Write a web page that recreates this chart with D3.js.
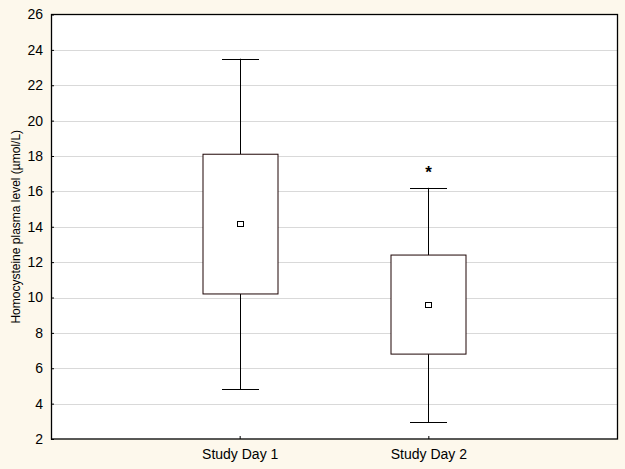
<!DOCTYPE html>
<html>
<head>
<meta charset="utf-8">
<script src="https://cdn.jsdelivr.net/npm/d3@7"></script>
<style>
  body { margin: 0; background: #fdf8ec; }
  svg { display: block; font-family: "Liberation Sans", Arial, sans-serif; }
</style>
</head>
<body>
<div id="chart"></div>
<script>
// données
const days = ["Study Day 1", "Study Day 2"];
const whiskerLow = [4.8, 2.95];
const boxLow = [10.2, 6.8];
const means = [14.15, 9.6];
const boxHigh = [18.1, 12.4];
const whiskerHigh = [23.5, 16.2];
const starValue = [null, 17.25];
const yTicks = [2, 4, 6, 8, 10, 12, 14, 16, 18, 20, 22, 24, 26];

const width = 625, height = 469;
const margin = {top: 14.5, right: 8, bottom: 30, left: 51};

const svg = d3.select("#chart").append("svg")
    .attr("width", width)
    .attr("height", height);

svg.append("rect").attr("width", width).attr("height", height).attr("fill", "#fdf8ec");

const x = d3.scalePoint()
    .domain(days)
    .range([margin.left, width - margin.right])
    .padding(1);

const y = d3.scaleLinear()
    .domain([2, 26])
    .range([height - margin.bottom, margin.top]);

// zone de tracé
svg.append("rect")
    .attr("x", margin.left)
    .attr("y", margin.top)
    .attr("width", width - margin.right - margin.left)
    .attr("height", height - margin.bottom - margin.top)
    .attr("fill", "#fff");

// grille
svg.append("g")
    .selectAll("line")
    .data(yTicks.slice(1, -1))
    .join("line")
    .attr("x1", margin.left)
    .attr("x2", width - margin.right)
    .attr("y1", d => Math.round(y(d)) + 0.5)
    .attr("y2", d => Math.round(y(d)) + 0.5)
    .attr("stroke", "#d9d9d9");

// axe Y
const yAxis = svg.append("g")
    .attr("transform", `translate(${margin.left},0)`)
    .call(d3.axisRight(y).tickValues(yTicks).tickSize(3).tickSizeOuter(0));
yAxis.select(".domain").remove();
yAxis.selectAll("text")
    .attr("x", -8)
    .attr("text-anchor", "end")
    .attr("font-size", 14)
    .attr("fill", "#000")
    .style("font-family", "Liberation Sans, Arial, sans-serif");

// axe X
const xAxis = svg.append("g")
    .attr("transform", `translate(0,${height - margin.bottom})`)
    .call(d3.axisTop(x).tickSize(3).tickSizeOuter(0));
xAxis.select(".domain").remove();
xAxis.selectAll("text")
    .attr("y", 20)
    .attr("dy", "0")
    .attr("font-size", 14)
    .attr("fill", "#000")
    .style("font-family", "Liberation Sans, Arial, sans-serif");

// boîtes
const boxW = 75;
const capW = 37;
const g = svg.append("g");
days.forEach((d, i) => {
    const cx = Math.round(x(d)) + 0.5;
    // moustaches
    g.append("line").attr("x1", cx).attr("x2", cx)
        .attr("y1", y(whiskerHigh[i])).attr("y2", y(boxHigh[i]))
        .attr("stroke", "#000");
    g.append("line").attr("x1", cx).attr("x2", cx)
        .attr("y1", y(boxLow[i])).attr("y2", y(whiskerLow[i]))
        .attr("stroke", "#000");
    [whiskerHigh[i], whiskerLow[i]].forEach(v => {
        g.append("line")
            .attr("x1", cx - capW / 2).attr("x2", cx + capW / 2)
            .attr("y1", Math.round(y(v)) + 0.5).attr("y2", Math.round(y(v)) + 0.5)
            .attr("stroke", "#000");
    });
    g.append("rect")
        .attr("x", cx - boxW / 2)
        .attr("y", y(boxHigh[i]))
        .attr("width", boxW)
        .attr("height", y(boxLow[i]) - y(boxHigh[i]))
        .attr("fill", "#fff")
        .attr("stroke", "#1e0505");
    g.append("rect")
        .attr("x", cx - 3)
        .attr("y", Math.round(y(means[i])) - 2.5)
        .attr("width", 6)
        .attr("height", 5)
        .attr("fill", "#fff")
        .attr("stroke", "#000");
    if (starValue[i] != null) {
        g.append("text")
            .attr("x", cx)
            .attr("y", y(starValue[i]) + 9)
            .attr("text-anchor", "middle")
            .attr("font-size", 17)
            .attr("font-weight", "bold")
            .text("*");
    }
});

// cadre
svg.append("rect")
    .attr("x", margin.left + 0.5)
    .attr("y", margin.top)
    .attr("width", width - margin.right - margin.left)
    .attr("height", height - margin.bottom - margin.top)
    .attr("fill", "none")
    .attr("stroke", "#000")
    .attr("stroke-width", 1.3);

// titre de l'axe Y
svg.append("text")
    .attr("transform", `translate(20,${(margin.top + height - margin.bottom) / 2}) rotate(-90)`)
    .attr("text-anchor", "middle")
    .attr("font-size", 12)
    .text("Homocysteine plasma level (µmol/L)");
</script>
</body>
</html>
